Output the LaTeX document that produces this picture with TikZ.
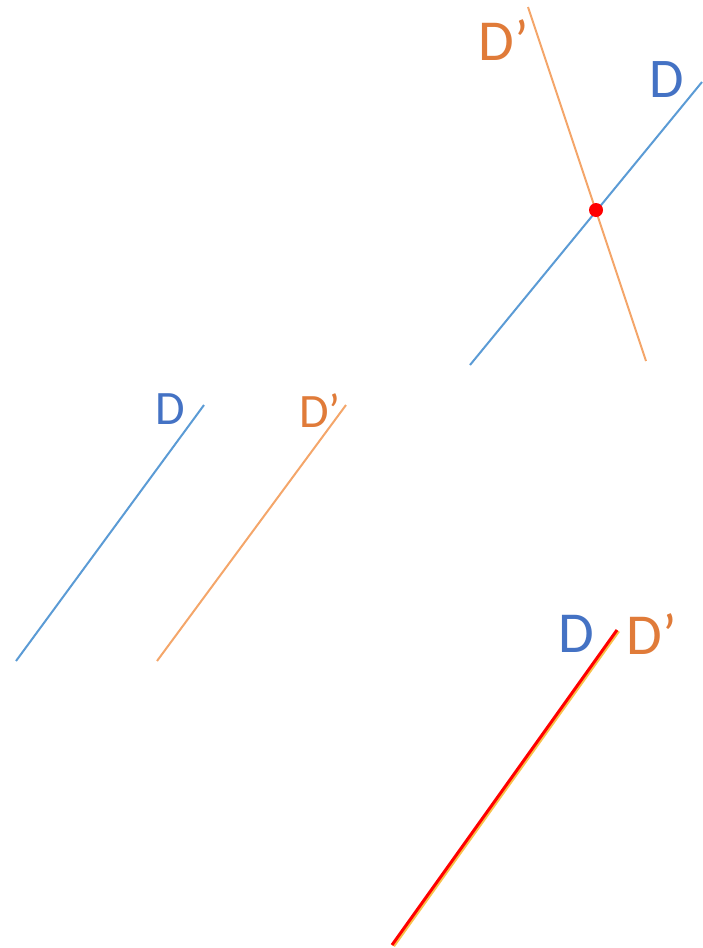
\documentclass[tikz,border=0pt]{standalone}
\usepackage{fontspec}
\setmainfont{Carlito}
\definecolor{lineblue}{HTML}{5B9BD5}
\definecolor{lineorange}{HTML}{F4A66A}
\definecolor{textblue}{HTML}{4472C4}
\definecolor{textorange}{HTML}{E07B39}
\tikzset{
  dline/.style={lineblue, line width=2pt},
  dpline/.style={lineorange, line width=2pt},
  dlabel/.style={textblue, inner sep=0pt},
  dplabel/.style={textorange, inner sep=0pt}
}
\begin{document}
\begin{tikzpicture}[x=1pt,y=-1pt]
\useasboundingbox (0,0) rectangle (703,948);

% Secant lines
\coordinate (s1) at (470,365);
\coordinate (s2) at (702,82);
\coordinate (t1) at (528,7);
\coordinate (t2) at (646,361);
\draw[dline]  (s1) -- (s2);
\draw[dpline] (t1) -- (t2);
\fill[red] (596,210) circle (7);
\node[dplabel, font=\fontsize{58}{60}\selectfont] (sDp) at (504,40) {D’};
\node[dlabel,  font=\fontsize{56}{60}\selectfont] (sD)  at (667,80) {D};

% Parallel lines
\coordinate (p1) at (16,661);
\coordinate (p2) at (204,405);
\coordinate (q1) at (157,661);
\coordinate (q2) at (346,405);
\draw[dline]  (p1) -- (p2);
\draw[dpline] (q1) -- (q2);
\node[dlabel,  font=\fontsize{48}{50}\selectfont] (pD)  at (170,409) {D};
\node[dplabel, font=\fontsize{48}{50}\selectfont] (pDp) at (320,411) {D’};

% Coincident lines
\coordinate (c1) at (392,945);
\coordinate (c2) at (617,630);
\draw[lineorange!70!yellow, line width=4pt] ([xshift=1.2pt,yshift=-0.8pt]c1) -- ([xshift=1.2pt,yshift=-0.8pt]c2);
\draw[red, line width=3pt] (c1) -- (c2);
\node[dlabel,  font=\fontsize{58}{60}\selectfont] (cD)  at (576,634) {D};
\node[dplabel, font=\fontsize{58}{60}\selectfont] (cDp) at (652,634) {D’};

\end{tikzpicture}
\end{document}
